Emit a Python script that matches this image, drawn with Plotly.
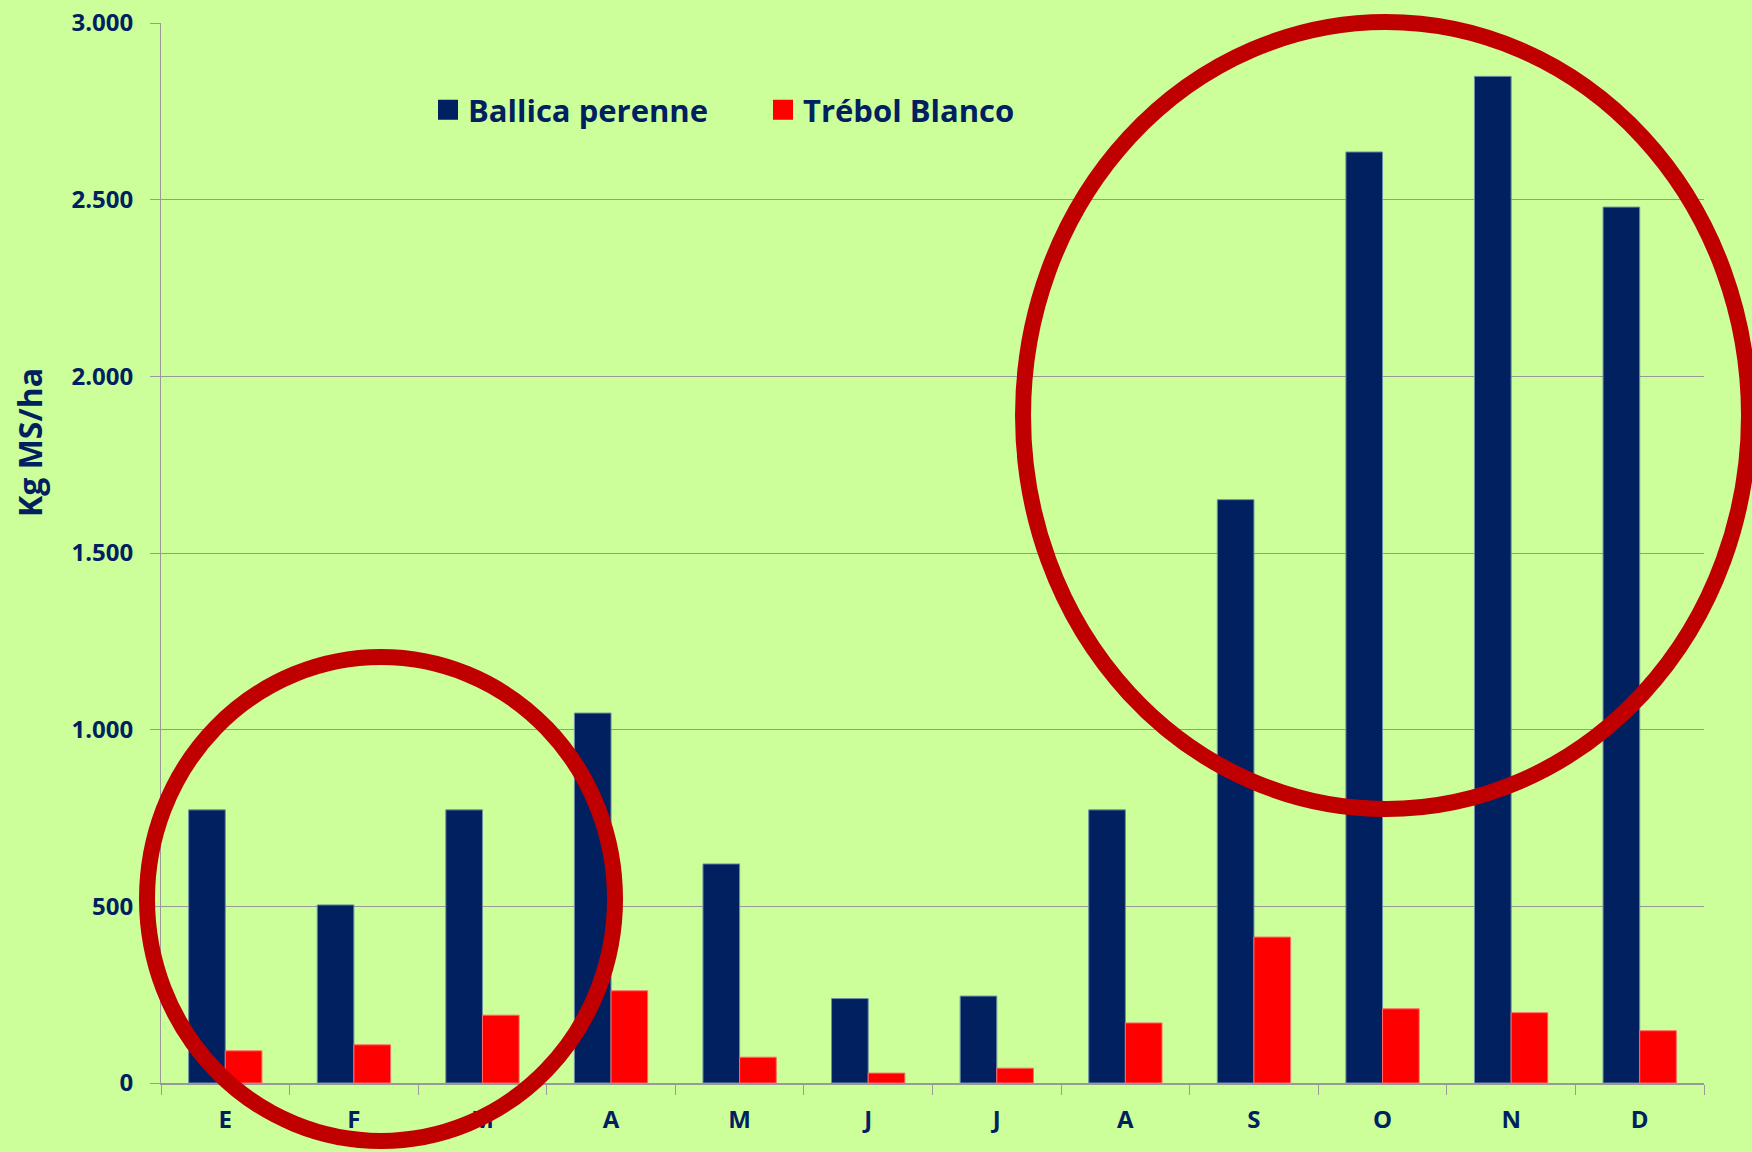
import plotly.graph_objects as go

# ---- data ----
months = ["E", "F", "M", "A", "M", "J", "J", "A", "S", "O", "N", "D"]
ballica = [773, 504, 773, 1047, 620, 239, 246, 773, 1651, 2635, 2849, 2479]
trebol = [91, 108, 192, 261, 73, 28, 42, 170, 413, 210, 199, 148]
series_names = ["Ballica perenne", "Trébol Blanco"]
y_ticks = [0, 500, 1000, 1500, 2000, 2500, 3000]
y_title = "Kg MS/ha"

# ---- style ----
W, H = 1752, 1152
L, R, T, B = 161, 48, 23, 69
BG = "#CCFF99"
NAVY = "#002060"
RED = "#FF0000"
CIRCLE = "#C00000"
GRID = "#999999"
FONT = "Open Sans"

pw = W - L - R
ph = H - T - B


def xp(px):
    return (px - L) / pw


def yp(py):
    return (H - B - py) / ph


idx = list(range(len(months)))

fig = go.Figure()
fig.add_trace(go.Bar(x=idx, y=ballica, name=series_names[0], showlegend=False,
                     marker=dict(color=NAVY, line=dict(color="#6F8FA8", width=1))))
fig.add_trace(go.Bar(x=idx, y=trebol, name=series_names[1], showlegend=False,
                     marker=dict(color=RED, line=dict(color="#FF6A6A", width=1))))
# legend proxies
fig.add_trace(go.Scatter(x=[None], y=[None], mode="markers", name=series_names[0],
                         marker=dict(symbol="square", size=16, color=NAVY,
                                     line=dict(color=NAVY, width=4))))
fig.add_trace(go.Scatter(x=[None], y=[None], mode="markers", name=series_names[1],
                         marker=dict(symbol="square", size=16, color=RED,
                                     line=dict(color=RED, width=4))))

fig.update_layout(
    width=W, height=H,
    margin=dict(l=L, r=R, t=T, b=B, pad=0, autoexpand=False),
    paper_bgcolor=BG, plot_bgcolor=BG,
    barmode="group", bargap=0.43, bargroupgap=0,
    separators=",.",
    font=dict(family=FONT, color=NAVY),
    showlegend=True,
    legend=dict(orientation="h", x=xp(428), y=yp(83), xanchor="left", yanchor="top",
                bgcolor="rgba(0,0,0,0)", itemsizing="trace", entrywidth=290,
                font=dict(family=FONT, size=31, color=NAVY, weight="bold"),
                traceorder="normal"),
    xaxis=dict(range=[-0.5, len(months) - 0.5], tickmode="array", tickvals=idx,
               ticktext=months, ticks="", showgrid=False, zeroline=False,
               showline=True, linecolor=GRID, linewidth=2, automargin=False,
               tickfont=dict(family=FONT, size=24, color=NAVY, weight="bold"),
               ticklabelstandoff=14,
               minor=dict(tickmode="linear", tick0=-0.5, dtick=1, ticks="outside",
                          ticklen=10, tickcolor=GRID, tickwidth=1, showgrid=False)),
    yaxis=dict(range=[0, 3000], tickmode="array", tickvals=y_ticks, tickformat=",d",
               ticks="outside", ticklen=10, tickcolor=GRID, tickwidth=1,
               showgrid=True, gridcolor=GRID, gridwidth=1, zeroline=False,
               showline=True, linecolor=GRID, linewidth=1, automargin=False,
               ticklabelstandoff=12,
               tickfont=dict(family=FONT, size=24, color=NAVY, weight="bold")),
)

fig.add_annotation(text=y_title, xref="paper", yref="paper", x=xp(29), y=yp(443),
                   xanchor="center", yanchor="middle", textangle=-90, showarrow=False,
                   font=dict(family=FONT, size=32, color=NAVY, weight="bold"))

fig.add_shape(type="circle", xref="paper", yref="paper",
              x0=xp(147), x1=xp(615), y0=yp(1141), y1=yp(657),
              line=dict(color=CIRCLE, width=16), layer="above")
fig.add_shape(type="circle", xref="paper", yref="paper",
              x0=xp(1023), x1=xp(1749), y0=yp(809), y1=yp(22),
              line=dict(color=CIRCLE, width=16), layer="above")

fig.write_html("out.html")
